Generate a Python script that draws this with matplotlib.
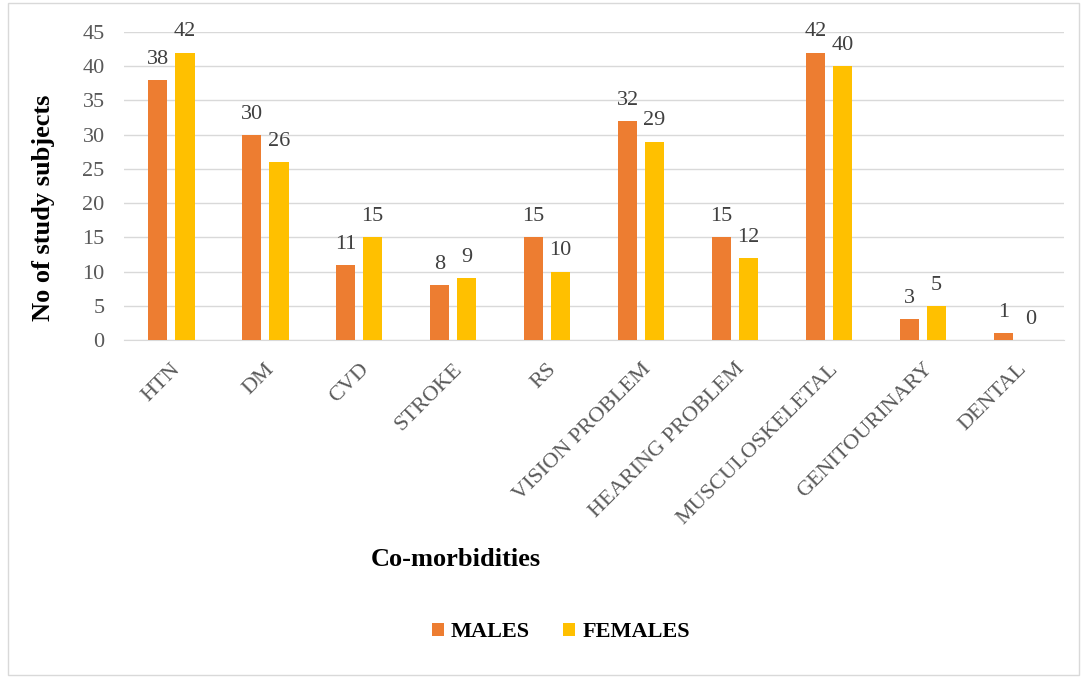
import numpy as np
import matplotlib
matplotlib.use('Agg')
import matplotlib.pyplot as plt
from matplotlib.patches import Rectangle

# data
categories = ['HTN', 'DM', 'CVD', 'STROKE', 'RS', 'VISION PROBLEM',
              'HEARING PROBLEM', 'MUSCULOSKELETAL', 'GENITOURINARY', 'DENTAL']
males = [38, 30, 11, 8, 15, 32, 15, 42, 3, 1]
females = [42, 26, 15, 9, 10, 29, 12, 40, 5, 0]

plt.rcParams['font.family'] = ['Liberation Serif', 'DejaVu Serif']

fig = plt.figure(figsize=(10.89, 6.82), dpi=100)
ax = fig.add_axes([0.114, 0.5015, 0.863, 0.4515])

x = np.arange(len(categories))
w = 0.21
off = 0.144
b1 = ax.bar(x - off, males, w, color='#ED7D31', label='MALES', zorder=3)
b2 = ax.bar(x + off, females, w, color='#FFC000', label='FEMALES', zorder=3)

for bars in (b1, b2):
    for b in bars:
        h = b.get_height()
        ax.annotate(f'{int(h)}', (b.get_x() + b.get_width() / 2, h),
                    xytext=(0, 8), textcoords='offset points',
                    ha='center', va='bottom', fontsize=16, color='#404040')

ax.set_xlim(-0.5, len(categories) - 0.5)
ax.set_ylim(0, 45)
ax.set_yticks(range(0, 46, 5))
ax.grid(axis='y', color='#D9D9D9', linewidth=1, zorder=0)
for s in ['top', 'right', 'left']:
    ax.spines[s].set_visible(False)
ax.spines['bottom'].set_color('#D9D9D9')
ax.tick_params(length=0, labelsize=16, labelcolor='#595959')
ax.tick_params(axis='y', pad=14)
ax.tick_params(axis='x', pad=14)
ax.set_xticks(x)
ax.set_xticklabels(categories, rotation=45, ha='right', rotation_mode='anchor')

fig.text(0.040, 0.696, 'No of study subjects', fontsize=19, fontweight='bold',
         rotation=90, ha='center', va='center')
fig.text(0.419, 0.180, 'Co-morbidities', fontsize=19, fontweight='bold',
         ha='center', va='center')

fig.legend(loc='center', bbox_to_anchor=(0.515, 0.073), ncol=2, frameon=False,
           prop={'size': 16, 'weight': 'bold'}, handlelength=0.55, handleheight=0.55,
           handletextpad=0.3, columnspacing=1.5)

fig.patches.append(Rectangle((0.007, 0.01), 0.984, 0.985, transform=fig.transFigure,
                             fill=False, edgecolor='#D9D9D9', linewidth=1))

fig.savefig('out.png', dpi=100)
